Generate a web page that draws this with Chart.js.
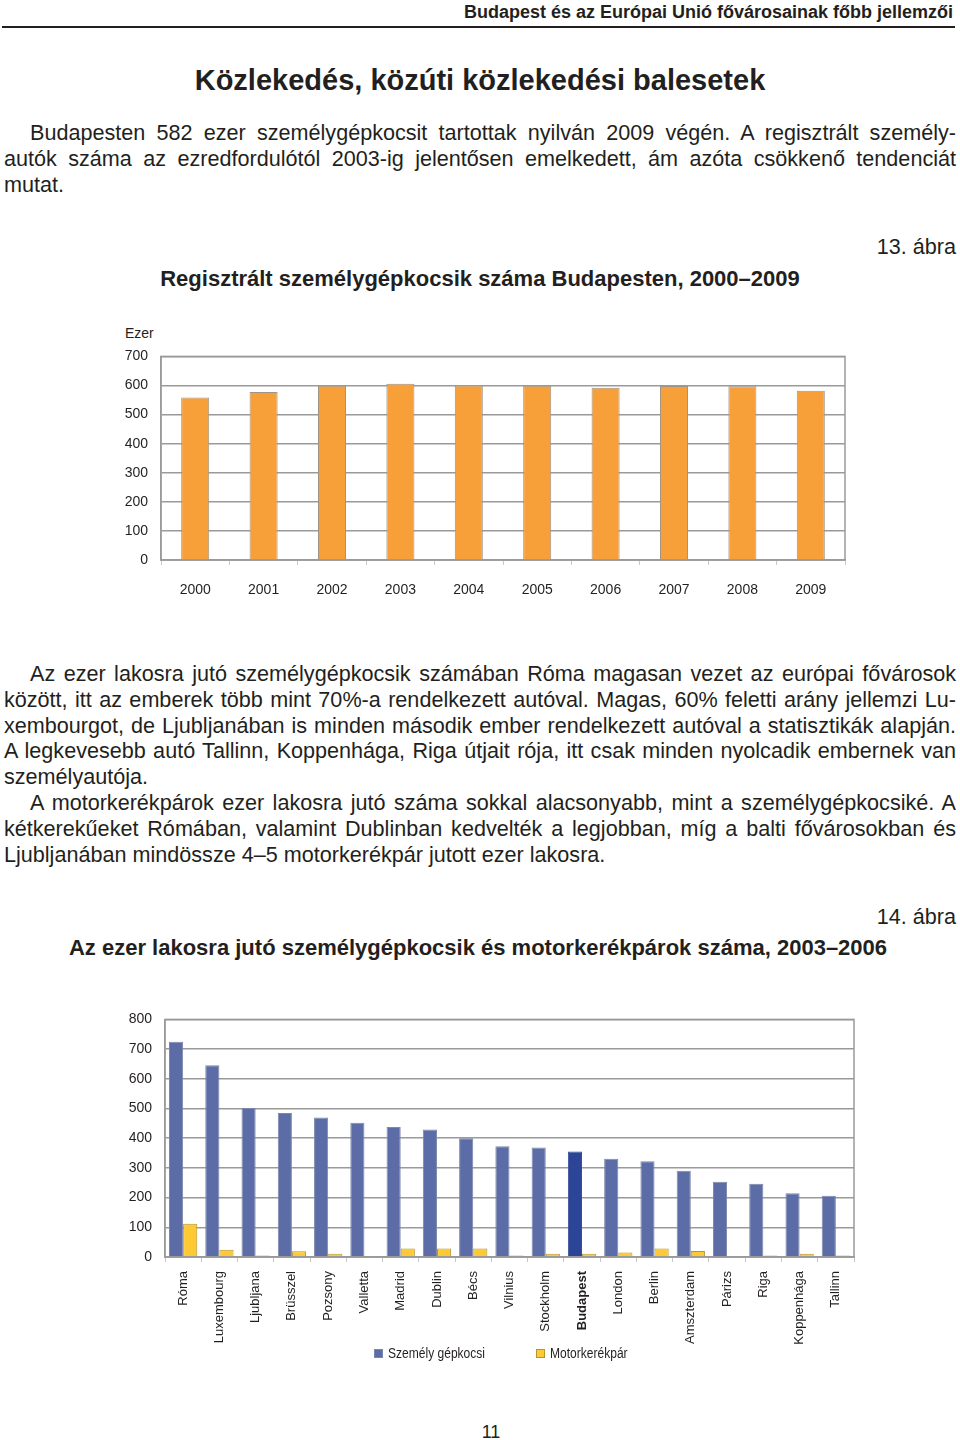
<!DOCTYPE html>
<html lang="hu">
<head>
<meta charset="utf-8">
<title>Közlekedés, közúti közlekedési balesetek</title>
<script src="https://cdn.jsdelivr.net/npm/chart.js@4.4.0/dist/chart.umd.min.js"></script>
<style>
  html, body { margin: 0; padding: 0; background: #fff; }
  body {
    width: 960px; height: 1440px; position: relative; overflow: hidden;
    font-family: 'Liberation Sans', Arial, sans-serif; color: #231f20;
  }
  .abs { position: absolute; white-space: nowrap; }
  #running-head { right: 7px; top: 1px; font-size: 18px; line-height: 22px; font-weight: bold; }
  #head-rule { left: 2px; top: 26px; width: 953px; height: 2px; background: #231f20; }
  #page-title { left: 0; width: 960px; top: 63px; text-align: center; font-size: 29px; line-height: 34px; font-weight: bold; }
  .para { position: absolute; left: 4px; width: 952px; font-size: 21.6px; line-height: 25.8px; }
  .ln { white-space: nowrap; text-align: justify; text-align-last: justify; height: 25.8px; }
  .ln.first { padding-left: 26px; }
  .ln.last { text-align: left; text-align-last: left; }
  .fig-no { right: 4px; font-size: 21.6px; line-height: 26px; }
  .fig-title { left: 0; width: 960px; text-align: center; font-size: 22px; line-height: 26px; font-weight: bold; }
  #unit { left: 125px; top: 324px; font-size: 14px; line-height: 18px; }
  .chart-box { position: absolute; }
  #box1 { left: 100px; top: 335px; width: 760px; height: 270px; }
  #box2 { left: 100px; top: 998px; width: 770px; height: 352px; }
  .legend-item { position: absolute; top: 1344px; font-size: 14px; line-height: 18px; }
  .legend-item span { display: inline-block; transform: scaleX(0.86); transform-origin: left center; }
  .legend-item i { display: inline-block; width: 9px; height: 9px; margin-right: 5px; vertical-align: 0px; box-sizing: border-box; }
  #page-no { left: 0; width: 982px; text-align: center; top: 1422px; font-size: 18px; line-height: 20px; }
</style>
</head>
<body>

<div class="abs" id="running-head">Budapest és az Európai Unió fővárosainak főbb jellemzői</div>
<div class="abs" id="head-rule"></div>
<div class="abs" id="page-title">Közlekedés, közúti közlekedési balesetek</div>

<div class="para" style="top:120px">
  <div class="ln first">Budapesten 582 ezer személygépkocsit tartottak nyilván 2009 végén. A regisztrált személy-</div>
  <div class="ln">autók száma az ezredfordulótól 2003-ig jelentősen emelkedett, ám azóta csökkenő tendenciát</div>
  <div class="ln last">mutat.</div>
</div>

<div class="abs fig-no" style="top:234px">13. ábra</div>
<div class="abs fig-title" style="top:266px">Regisztrált személygépkocsik száma Budapesten, 2000–2009</div>
<div class="abs" id="unit">Ezer</div>
<div class="chart-box" id="box1"><canvas id="cars-bp"></canvas></div>

<div class="para" style="top:661px">
  <div class="ln first">Az ezer lakosra jutó személygépkocsik számában Róma magasan vezet az európai fővárosok</div>
  <div class="ln">között, itt az emberek több mint 70%-a rendelkezett autóval. Magas, 60% feletti arány jellemzi Lu-</div>
  <div class="ln">xembourgot, de Ljubljanában is minden második ember rendelkezett autóval a statisztikák alapján.</div>
  <div class="ln">A legkevesebb autó Tallinn, Koppenhága, Riga útjait rója, itt csak minden nyolcadik embernek van</div>
  <div class="ln last">személyautója.</div>
  <div class="ln first">A motorkerékpárok ezer lakosra jutó száma sokkal alacsonyabb, mint a személygépkocsiké. A</div>
  <div class="ln">kétkerekűeket Rómában, valamint Dublinban kedvelték a legjobban, míg a balti fővárosokban és</div>
  <div class="ln last">Ljubljanában mindössze 4–5 motorkerékpár jutott ezer lakosra.</div>
</div>

<div class="abs fig-no" style="top:904px">14. ábra</div>
<div class="abs fig-title" style="top:935px;left:-2px">Az ezer lakosra jutó személygépkocsik és motorkerékpárok száma, 2003–2006</div>
<div class="chart-box" id="box2"><canvas id="cities"></canvas></div>

<div class="legend-item" style="left:374px"><i style="background:#5b6ca6;border:1px solid #7d87a8"></i><span>Személy gépkocsi</span></div>
<div class="legend-item" style="left:536px"><i style="background:#fdc935;border:1px solid #b8962e"></i><span>Motorkerékpár</span></div>

<div class="abs" id="page-no">11</div>

<script>
'use strict';

/* ── Data ─────────────────────────────────────────────── */
const YEARS   = ['2000', '2001', '2002', '2003', '2004', '2005', '2006', '2007', '2008', '2009'];
const CARS_BP = [559, 578, 599, 606, 600, 599, 592, 598, 597, 582];
const Y1_MAX  = 700;
const Y1_STEP = 100;

const CITIES = ['Róma', 'Luxembourg', 'Ljubljana', 'Brüsszel', 'Pozsony', 'Valletta', 'Madrid',
  'Dublin', 'Bécs', 'Vilnius', 'Stockholm', 'Budapest', 'London', 'Berlin', 'Amszterdam',
  'Párizs', 'Riga', 'Koppenhága', 'Tallinn'];
const CARS_PER_1000  = [725, 646, 502, 485, 470, 452, 438, 429, 400, 373, 369, 355, 331, 322, 290, 253, 247, 215, 206];
const MOTOR_PER_1000 = [112, 24, 5, 19, 11, null, 29, 29, 29, 5, 11, 11, 15, 29, 20, null, 5, 11, 5];
const SERIES_NAMES   = ['Személy gépkocsi', 'Motorkerékpár'];
const Y2_MAX  = 800;
const Y2_STEP = 100;
const HIGHLIGHT = 'Budapest';

/* ── Styling ──────────────────────────────────────────── */
const GRID    = '#9a9a9a';
const INK     = '#231f20';
const FONT    = "'Liberation Sans', Arial, sans-serif";

Chart.defaults.animation = false;
Chart.defaults.color = INK;

// frame round the plot area (top/right sides are not drawn by the axes)
const plotFrame = {
  id: 'plotFrame',
  afterDraw(chart) {
    const { ctx, chartArea: a } = chart;
    ctx.save();
    ctx.strokeStyle = GRID;
    ctx.lineWidth = 1.5;
    ctx.strokeRect(a.left, a.top, a.right - a.left, a.bottom - a.top);
    ctx.restore();
  }
};

function yAxis(max, step, width) {
  return {
    min: 0, max,
    ticks: { stepSize: step, padding: 13, font: { family: FONT, size: 14 }, color: INK },
    grid: { color: GRID, lineWidth: 1.5, drawTicks: false },
    border: { color: GRID, width: 1.5 },
    afterFit: s => { s.width = width; }
  };
}

/* ── Chart 13: registered cars in Budapest ────────────── */
new Chart(document.getElementById('cars-bp'), {
  type: 'bar',
  data: {
    labels: YEARS,
    datasets: [{
      label: 'Személygépkocsi',
      data: CARS_BP,
      backgroundColor: '#f7a03a',
      borderColor: '#a09488',
      borderWidth: 1,
      categoryPercentage: 0.82,
      barPercentage: 0.5,
    }]
  },
  options: {
    responsive: true,
    maintainAspectRatio: false,
    layout: { padding: { left: 0, top: 0, right: 15, bottom: 0 } },
    plugins: { legend: { display: false }, tooltip: { enabled: false } },
    scales: {
      x: {
        ticks: { padding: 17, font: { family: FONT, size: 14 }, color: INK },
        grid: { drawOnChartArea: false, drawTicks: true, tickLength: 5, color: '#c8c8c8' },
        border: { color: GRID, width: 1.5 },
        afterFit: s => { s.height = 45; }
      },
      y: yAxis(Y1_MAX, Y1_STEP, 61)
    }
  },
  plugins: [plotFrame]
});

/* ── Chart 14: cars and motorcycles per 1000 inhabitants ── */
const isHighlight = c => c.type === 'data' && CITIES[c.dataIndex] === HIGHLIGHT;

new Chart(document.getElementById('cities'), {
  type: 'bar',
  data: {
    labels: CITIES,
    datasets: [{
      label: SERIES_NAMES[0],
      data: CARS_PER_1000,
      backgroundColor: c => isHighlight(c) ? '#2c4597' : '#5b6ca6',
      borderColor: c => isHighlight(c) ? '#3a4f98' : '#7d87a8',
      borderWidth: 1,
    }, {
      label: SERIES_NAMES[1],
      data: MOTOR_PER_1000,
      backgroundColor: '#fdc935',
      borderColor: '#b8962e',
      borderWidth: 1,
    }]
  },
  options: {
    responsive: true,
    maintainAspectRatio: false,
    datasets: { bar: { categoryPercentage: 0.78, barPercentage: 1 } },
    layout: { padding: { left: 0, top: 0, right: 16, bottom: 0 } },
    plugins: { legend: { display: false }, tooltip: { enabled: false } },
    scales: {
      x: {
        ticks: {
          autoSkip: false, minRotation: 90, maxRotation: 90, padding: 9, color: INK,
          font: c => ({ family: FONT, size: 13, weight: CITIES[c.index] === HIGHLIGHT ? 'bold' : 'normal' })
        },
        grid: { drawOnChartArea: false, drawTicks: true, tickLength: 5, color: '#c8c8c8' },
        border: { color: GRID, width: 1.5 },
        afterFit: s => { s.height = 93; }
      },
      y: yAxis(Y2_MAX, Y2_STEP, 65)
    }
  },
  plugins: [plotFrame]
});
</script>
</body>
</html>
